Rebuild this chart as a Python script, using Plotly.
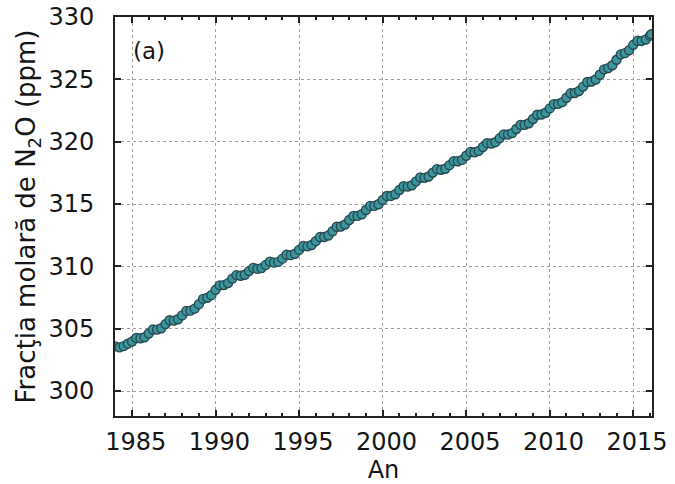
import plotly.graph_objects as go

# Years and quarterly N2O mole fractions (ppm)
years = list(range(1984, 2016))
quarterly_ppm = [
    [303.58, 303.50, 303.60, 303.80],  # 1984
    [303.97, 304.26, 304.23, 304.32],  # 1985
    [304.62, 304.94, 304.93, 305.04],  # 1986
    [305.37, 305.68, 305.65, 305.76],  # 1987
    [306.07, 306.43, 306.45, 306.61],  # 1988
    [306.97, 307.39, 307.48, 307.69],  # 1989
    [308.12, 308.48, 308.50, 308.66],  # 1990
    [309.02, 309.30, 309.25, 309.33],  # 1991
    [309.62, 309.88, 309.80, 309.86],  # 1992
    [310.12, 310.38, 310.30, 310.36],  # 1993
    [310.62, 310.93, 310.90, 311.01],  # 1994
    [311.32, 311.63, 311.60, 311.71],  # 1995
    [312.02, 312.35, 312.35, 312.48],  # 1996
    [312.82, 313.18, 313.20, 313.36],  # 1997
    [313.72, 314.05, 314.05, 314.18],  # 1998
    [314.52, 314.85, 314.85, 314.98],  # 1999
    [315.32, 315.65, 315.65, 315.78],  # 2000
    [316.12, 316.43, 316.40, 316.51],  # 2001
    [316.82, 317.13, 317.10, 317.21],  # 2002
    [317.52, 317.80, 317.75, 317.83],  # 2003
    [318.12, 318.44, 318.43, 318.54],  # 2004
    [318.87, 319.18, 319.15, 319.26],  # 2005
    [319.57, 319.88, 319.85, 319.96],  # 2006
    [320.27, 320.59, 320.58, 320.69],  # 2007
    [321.02, 321.35, 321.35, 321.48],  # 2008
    [321.82, 322.16, 322.18, 322.32],  # 2009
    [322.67, 323.01, 323.03, 323.17],  # 2010
    [323.52, 323.88, 323.90, 324.06],  # 2011
    [324.42, 324.79, 324.83, 324.99],  # 2012
    [325.37, 325.80, 325.90, 326.13],  # 2013
    [326.57, 327.00, 327.10, 327.33],  # 2014
    [327.77, 328.09, 328.08, 328.19],  # 2015
]
final_times = [2016.0, 2016.08]
final_ppm = [328.50, 328.62]

x_tick_vals = [1985, 1990, 1995, 2000, 2005, 2010, 2015]
x_tick_text = ["1985", "1990", "1995", "2000", "2005", "2010", "2015"]
y_tick_vals = [300, 305, 310, 315, 320, 325, 330]

quarter_offsets = [0.0, 0.25, 0.5, 0.75]
time = []
ppm = []
for yr, vals in zip(years, quarterly_ppm):
    for off, v in zip(quarter_offsets, vals):
        time.append(yr + off)
        ppm.append(v)
time += final_times
ppm += final_ppm

FONT = "DejaVu Sans, Verdana, sans-serif"
TXT = "#161616"
FS = 24

fig = go.Figure()
fig.add_trace(go.Scatter(
    x=time, y=ppm, mode="lines+markers",
    line=dict(color="#2b5258", width=4),
    marker=dict(symbol="circle", size=9, color="#3b959c",
                line=dict(color="#284a50", width=1.4)),
    showlegend=False, hoverinfo="x+y",
))

axis_common = dict(
    showline=True, linecolor="#222222", linewidth=2, mirror="allticks",
    ticks="inside", tickcolor="#222222", tickwidth=1.5, ticklen=6,
    showgrid=True, gridcolor="#a0a0a0", griddash="dot", gridwidth=1,
    zeroline=False, ticklabeloverflow="allow", automargin=False,
    tickfont=dict(family=FONT, size=FS, color=TXT),
)

# Non-breaking spaces nudge the year labels right, as in the reference
x_labels_shifted = ["\u00a0" + t for t in x_tick_text]

fig.update_layout(
    width=675, height=484,
    margin=dict(l=115, r=23, t=17, b=68),
    paper_bgcolor="white", plot_bgcolor="white",
    font=dict(family=FONT, color=TXT),
    xaxis=dict(
        range=[1983.98, 2016.12], tickvals=x_tick_vals, ticktext=x_labels_shifted,
        minor=dict(dtick=1, ticks="inside", ticklen=3, tickcolor="#222222", showgrid=False),
        title=dict(text="An", font=dict(family=FONT, size=FS, color=TXT), standoff=16),
        ticklabelstandoff=3,
        **axis_common,
    ),
    yaxis=dict(
        range=[298, 330], tickvals=y_tick_vals,
        title=dict(text="Fracţia molară de N<sub>2</sub>O (ppm)",
                   font=dict(family=FONT, size=26, color=TXT), standoff=5),
        ticklabelstandoff=14,
        **axis_common,
    ),
    annotations=[dict(
        text="(a)", xref="paper", yref="paper", x=0.03, y=0.915,
        xanchor="left", yanchor="middle", showarrow=False,
        font=dict(family=FONT, size=23, color=TXT),
    )],
)

fig.write_html("out.html")
